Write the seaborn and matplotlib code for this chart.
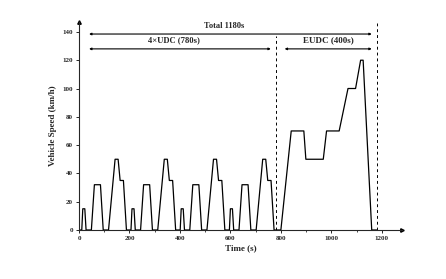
import numpy as np
import pandas as pd
import matplotlib
matplotlib.use("Agg")
import matplotlib.pyplot as plt
import seaborn as sns

# UDC (ECE-15) breakpoints, one 195 s cycle
udc_time = [0, 11, 15, 23, 28, 49, 61, 85, 96, 117, 143, 155, 163, 176, 188, 195]
udc_speed = [0, 0, 15, 15, 0, 0, 32, 32, 0, 0, 50, 50, 35, 35, 0, 0]
# EUDC breakpoints (offset 780 s)
eudc_time = [0, 20, 61, 111, 119, 188, 201, 251, 286, 316, 336, 346, 380, 400]
eudc_speed = [0, 0, 70, 70, 50, 50, 70, 70, 100, 100, 120, 120, 0, 0]
n_udc = 4
udc_len = 195

x_ticks = [0, 200, 400, 600, 800, 1000, 1200]
y_ticks = [0, 20, 40, 60, 80, 100, 120, 140]

t, v = [], []
for k in range(n_udc):
    t += [k * udc_len + s for s in udc_time]
    v += udc_speed
t += [n_udc * udc_len + s for s in eudc_time]
v += eudc_speed
df = pd.DataFrame({"Time": t, "Speed": v})

sns.set_style("ticks")
plt.rcParams['font.family'] = ['Liberation Serif', 'DejaVu Serif']
plt.rcParams['font.weight'] = 'bold'

fig = plt.figure(figsize=(4.46, 2.79), dpi=100)
ax = fig.add_axes([79/446, 49/279, 323/446, 208/279])
sns.lineplot(data=df, x="Time", y="Speed", ax=ax, color="black", lw=0.9,
             sort=False, estimator=None)

ax.set_xlim(0, 1280)
ax.set_ylim(0, 147)
ax.set_xticks(x_ticks)
ax.set_xticks(np.arange(100, 1300, 200), minor=True)
ax.set_yticks(y_ticks)
ax.tick_params(axis='both', labelsize=5, width=0.7, length=2.5, pad=2, direction='out')
ax.tick_params(axis='x', which='minor', length=1.5, width=0.6)
for lab in ax.get_xticklabels() + ax.get_yticklabels():
    lab.set_fontweight('bold')
ax.set_xlabel("Time (s)", fontsize=6.5, fontweight='bold', labelpad=2)
ax.set_ylabel("Vehicle Speed (km/h)", fontsize=6.5, fontweight='bold', labelpad=4)
for s in ['top', 'right']:
    ax.spines[s].set_visible(False)
for s in ['left', 'bottom']:
    ax.spines[s].set_linewidth(0.8)
# axis arrowheads
ax.plot(1, 0, ">k", transform=ax.transAxes, clip_on=False, ms=2.5)
ax.plot(0, 1, "^k", transform=ax.transAxes, clip_on=False, ms=2.5)

# dashed separators
ax.plot([780, 780], [0, 137], ls=(0, (3, 3)), color='black', lw=0.7)
ax.plot([1180, 1180], [0, 146], ls=(0, (3, 3)), color='black', lw=0.7)

ap = dict(arrowstyle='<|-|>', color='black', lw=0.8, mutation_scale=3, shrinkA=0, shrinkB=0)
ax.annotate("", xy=(40, 138.5), xytext=(1160, 138.5), arrowprops=ap)
ax.annotate("", xy=(40, 128), xytext=(760, 128), arrowprops=ap)
ax.annotate("", xy=(815, 128), xytext=(1160, 128), arrowprops=ap)
ax.text(575, 141, "Total 1180s", ha='center', va='bottom', fontsize=6, fontweight='bold')
ax.text(375, 131, "4\u00d7UDC (780s)", ha='center', va='bottom', fontsize=6.2, fontweight='bold')
ax.text(990, 131, "EUDC (400s)", ha='center', va='bottom', fontsize=6.5, fontweight='bold')

fig.savefig("out.png", dpi=100)
